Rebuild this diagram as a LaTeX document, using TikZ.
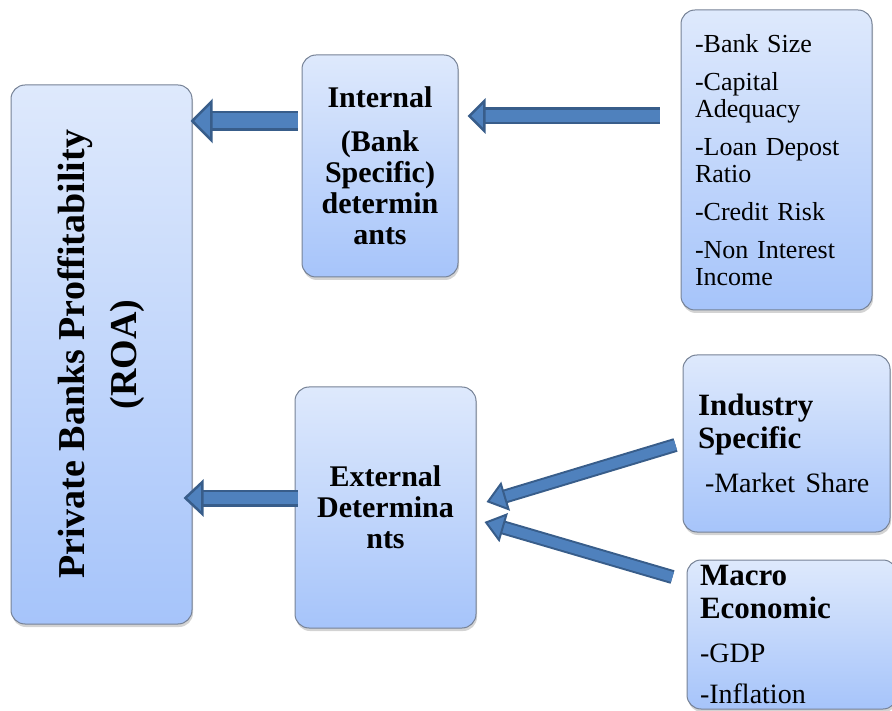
\documentclass[tikz,border=0pt]{standalone}
\usepackage{fontspec}
\setmainfont{Liberation Serif}
\usetikzlibrary{arrows.meta, positioning, shadows}

\definecolor{boxtop}{RGB}{222,233,252}
\definecolor{boxbottom}{RGB}{166,196,250}
\definecolor{boxline}{RGB}{118,130,150}
\definecolor{arrowfill}{RGB}{79,129,189}
\definecolor{arrowline}{RGB}{56,93,138}

\newcommand{\roafont}{\fontsize{38}{52}\selectfont\bfseries}
\newcommand{\headfont}{\fontsize{30}{31}\selectfont\bfseries}
\newcommand{\subfont}{\fontsize{31}{33}\selectfont\bfseries}
\newcommand{\itemfont}{\fontsize{28}{33}\selectfont\mdseries}
\newcommand{\listfont}{\fontsize{26}{27}\selectfont}

\begin{document}
\begin{tikzpicture}[
    x=1pt, y=-1pt,
    box/.style={rectangle, draw=boxline, line width=1pt, rounded corners=14pt,
        top color=boxtop, bottom color=boxbottom,
        drop shadow={shadow xshift=1pt, shadow yshift=-3pt, opacity=0.35}, inner sep=0pt},
    fatarrow/.style={draw=arrowline, line width=2.5pt, double=arrowfill, double distance=12pt,
        -{Triangle[length=20pt, width=37pt, fill=arrowfill]}},
    thinarrow/.style={draw=arrowline, line width=2pt, double=arrowfill, double distance=10pt,
        -{Triangle[length=20pt, width=30pt, fill=arrowfill]}},
]
    \useasboundingbox (0,0) rectangle (892,711);

    % boxes
    \node[box, minimum width=181pt, minimum height=539pt] (roa) at (101.5,354.5) {};
    \node[rotate=90, align=center, font=\roafont] (roalabel) at (roa.center) {Private Banks Proffitability\\(ROA)};

    \node[box, minimum width=156pt, minimum height=222pt, text width=156pt, align=center, font=\headfont] (int) at (380,166)
        {Internal\\[13pt](Bank\\Specific)\\determin\\ants};
    \node[box, minimum width=191pt, minimum height=300pt, inner xsep=14pt, text width=163pt, align=left, font=\listfont] (list) at (776.5,160)
        {-Bank Size\\[11pt]-Capital\\Adequacy\\[11pt]-Loan Depost\\Ratio\\[11pt]-Credit Risk\\[11pt]-Non Interest\\Income};

    \node[box, minimum width=181pt, minimum height=241pt, text width=181pt, align=center, font=\headfont] (ext) at (385.5,507.5)
        {External\\Determina\\nts};
    \node[box, minimum width=207pt, minimum height=177pt, inner xsep=15pt, text width=177pt, align=left, font=\subfont] (ind) at (786.5,443.5)
        {Industry\\Specific\\[11pt]{\itemfont\hspace{7pt}-Market Share}};
    \node[box, minimum width=210pt, minimum height=149pt, inner xsep=13pt, text width=184pt, align=left, font=\subfont] (mac) at (792,634.5)
        {Macro\\Economic\\[11pt]{\itemfont -GDP}\\[8pt]{\itemfont -Inflation}};

    % block arrows
    \coordinate (a1) at ([yshift=45pt]int.west);
    \coordinate (a2) at ([yshift=44pt]list.west);
    \coordinate (a3) at ([yshift=9.5pt]ext.west);
    \draw[fatarrow, double distance=15pt, -{Triangle[length=22pt, width=44pt, fill=arrowfill]}, shorten <=4pt, shorten >=-2pt] (a1) -- (a1 -| roa.east);
    \draw[fatarrow, -{Triangle[length=18pt, width=35pt, fill=arrowfill]}, shorten <=21pt, shorten >=9pt] (a2) -- (a2 -| int.east);
    \draw[fatarrow, shorten <=-3pt, shorten >=-9pt] (a3) -- (a3 -| roa.east);
    \draw[thinarrow] ([xshift=-7pt, yshift=-1.5pt]ind.west) -- ([xshift=10pt, yshift=5.5pt]ext.east);
    \draw[thinarrow] ([xshift=-14pt, yshift=57.5pt]mac.west) -- ([xshift=8pt, yshift=-14.5pt]ext.east);
\end{tikzpicture}
\end{document}
